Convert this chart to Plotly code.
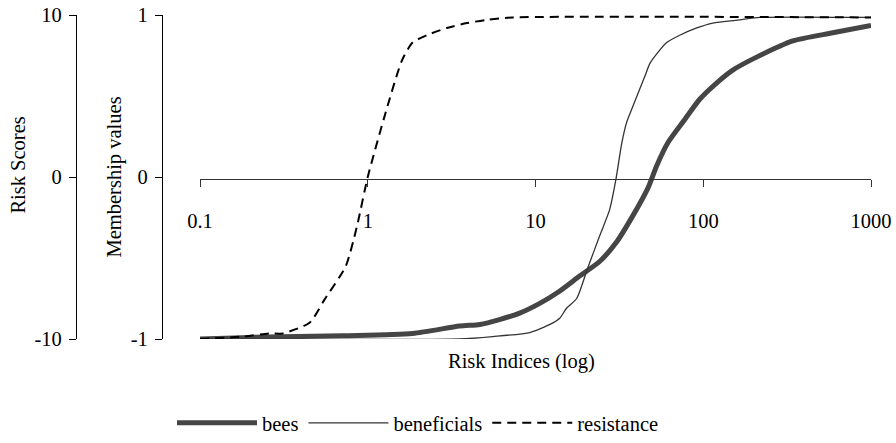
import plotly.graph_objects as go

# ---- data ----
x_ticks = [0.1, 1, 10, 100, 1000]
x_tick_labels = ["0.1", "1", "10", "100", "1000"]
member_ticks = [-1, 0, 1]
member_tick_labels = ["-1", "0", "1"]
score_ticks = [-10, 0, 10]
score_tick_labels = ["-10", "0", "10"]

bees_x = [0.1, 0.2, 0.71, 1.85, 3.53, 4.66, 6.1, 8.05, 10.6, 13.9, 18.4, 24.2, 30.5,
          38.0, 46.7, 52.8, 61.4, 77.6, 95.3, 120, 150, 208, 342, 592, 1000]
bees_y = [-1, -0.99, -0.98, -0.966, -0.92, -0.91, -0.88, -0.84, -0.78, -0.705, -0.61,
          -0.52, -0.40, -0.24, -0.07, 0.07, 0.21, 0.355, 0.48, 0.58, 0.66, 0.74, 0.84,
          0.89, 0.935]

benef_x = [0.1, 3.53, 5.56, 9.25, 12.2, 14.0, 15.3, 17.6, 20.5, 24.2, 27.7, 30.1, 32.7,
           35.0, 37.5, 44.8, 48.0, 52.8, 60.6, 72.4, 91.5, 114, 165, 217, 1000]
benef_y = [-1, -1, -0.985, -0.96, -0.91, -0.87, -0.81, -0.75, -0.56, -0.36, -0.20, -0.02,
           0.21, 0.34, 0.42, 0.62, 0.70, 0.76, 0.83, 0.875, 0.92, 0.95, 0.97, 0.985, 0.985]

resist_x = [0.1, 0.18, 0.26, 0.31, 0.45, 0.55, 0.74, 0.86, 1.0, 1.28, 1.6, 1.85, 2.25,
            2.96, 3.9, 5.1, 7.3, 1000]
resist_y = [-1, -0.985, -0.966, -0.966, -0.90, -0.76, -0.55, -0.31, 0, 0.40, 0.72, 0.83,
            0.875, 0.92, 0.95, 0.97, 0.985, 0.985]

FONT = "Liberation Serif"
FS = 20.5
W, H = 896, 443
L_PX, R_PX, T_PX, B_PX = 200, 871, 15, 342   # plot area in pixels

fig = go.Figure()
fig.add_trace(go.Scatter(x=bees_x, y=bees_y, name="bees", mode="lines",
                         line=dict(color="#454545", width=5, shape="spline", smoothing=0.7)))
fig.add_trace(go.Scatter(x=benef_x, y=benef_y, name="beneficials", mode="lines",
                         line=dict(color="#333333", width=1.3, shape="spline", smoothing=0.6)))
fig.add_trace(go.Scatter(x=resist_x, y=resist_y, name="resistance", mode="lines",
                         line=dict(color="black", width=2, dash="9px,6px",
                                   shape="spline", smoothing=0.6)))
# invisible trace to carry the Risk Scores axis
fig.add_trace(go.Scatter(x=[x_ticks[0]], y=[score_ticks[0]], yaxis="y2", mode="markers",
                         marker=dict(opacity=0), showlegend=False, hoverinfo="skip"))

ph = B_PX - T_PX

def py(pix):
    return (B_PX - pix) / ph

fig.update_layout(
    width=W, height=H,
    margin=dict(l=0, r=0, t=T_PX, b=H - B_PX, pad=0),
    paper_bgcolor="white", plot_bgcolor="white",
    font=dict(family=FONT, size=FS, color="black"),
    showlegend=True,
    legend=dict(orientation="h", x=418 / W, xanchor="center", y=py(427), yanchor="middle",
                font=dict(family=FONT, size=FS, color="black"), itemwidth=80,
                bgcolor="rgba(0,0,0,0)", tracegroupgap=0),
    xaxis=dict(type="log", range=[-1, 3], domain=[L_PX / W, R_PX / W],
               anchor="free", position=py(181),
               showline=True, linecolor="#333333", linewidth=1,
               ticks="outside", ticklen=7, tickcolor="#333333", tickwidth=1,
               tickvals=x_ticks, ticktext=x_tick_labels, ticklabelstandoff=16,
               showgrid=False, zeroline=False, automargin=False),
    yaxis=dict(range=[-1, 1], anchor="free", position=162 / W, side="left",
               showline=True, linecolor="black", linewidth=1.3,
               ticks="outside", ticklen=7, tickcolor="black",
               tickvals=member_ticks, ticktext=member_tick_labels, ticklabelstandoff=3,
               showgrid=False, zeroline=False, automargin=False),
    yaxis2=dict(range=[-10, 10], overlaying="y", anchor="free", position=76 / W, side="left",
                showline=True, linecolor="black", linewidth=1.3,
                ticks="outside", ticklen=7, tickcolor="black",
                tickvals=score_ticks, ticktext=score_tick_labels, ticklabelstandoff=3,
                showgrid=False, zeroline=False, automargin=False),
    annotations=[
        dict(text="Risk Scores", x=18 / W, y=py(167), xref="paper", yref="paper",
             textangle=-90, showarrow=False, xanchor="center", yanchor="middle",
             font=dict(family=FONT, size=FS)),
        dict(text="Membership values", x=115 / W, y=py(178), xref="paper", yref="paper",
             textangle=-90, showarrow=False, xanchor="center", yanchor="middle",
             font=dict(family=FONT, size=FS)),
        dict(text="Risk Indices (log)", x=521 / W, y=py(365), xref="paper", yref="paper",
             showarrow=False, xanchor="center", yanchor="middle",
             font=dict(family=FONT, size=FS)),
    ],
)

fig.write_html("out.html")
